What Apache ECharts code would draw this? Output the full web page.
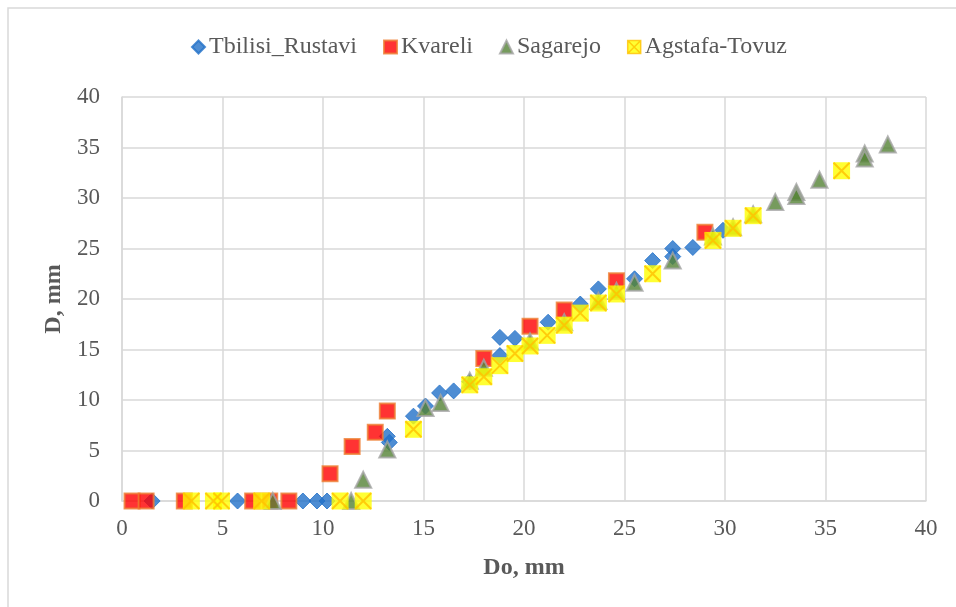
<!DOCTYPE html>
<html>
<head>
<meta charset="utf-8">
<title>D vs Do</title>
<script src="https://cdn.jsdelivr.net/npm/echarts@6.0.0/dist/echarts.min.js"></script>
<style>
  html, body { margin: 0; padding: 0; background: #fff; }
  #chart { width: 956px; height: 607px; }
</style>
</head>
<body>
<div id="chart"></div>
<script>
// Measured diameters (mm) per site: Do on the x axis, D on the y axis
var tbilisiX = [1.5, 5.75, 9.0, 9.7, 10.2, 13.2, 13.3, 14.5, 15.1, 15.8, 16.5, 17.3, 18.8, 18.8, 19.55, 21.2, 22.8, 23.7, 25.5, 26.4, 27.4, 27.4, 28.4, 29.9];
var tbilisiY = [0, 0, 0, 0, 0, 6.4, 5.8, 8.4, 9.4, 10.7, 10.9, 11.8, 14.4, 16.2, 16.1, 17.7, 19.5, 21.0, 22.0, 23.8, 25.0, 24.2, 25.1, 26.8];

var kvareliX = [0.5, 1.2, 3.1, 6.5, 7.35, 8.3, 10.35, 11.45, 12.6, 13.2, 18.0, 20.3, 22.0, 24.6, 29.0];
var kvareliY = [0, 0, 0, 0, 0, 0, 2.7, 5.4, 6.8, 8.9, 14.1, 17.3, 18.9, 21.8, 26.6];

var sagarejoX = [7.5, 11.4, 12.0, 13.2, 15.1, 15.85, 17.3, 18.0, 20.3, 22.0, 23.7, 24.6, 25.5, 27.4, 29.4, 30.4, 31.4, 32.5, 33.55, 33.55, 34.7, 36.95, 36.95, 38.1];
var sagarejoY = [0, 0, 2.1, 5.1, 9.2, 9.7, 11.9, 13.2, 15.8, 17.7, 19.8, 20.8, 21.6, 23.8, 26.2, 27.1, 28.4, 29.6, 30.6, 30.2, 31.8, 34.4, 33.9, 35.3];

var agstafaX = [3.45, 4.55, 4.95, 6.95, 10.85, 12.0, 14.5, 17.3, 18.0, 18.8, 19.55, 20.3, 21.15, 22.0, 22.8, 23.7, 24.6, 26.4, 29.4, 30.4, 31.4, 35.8];
var agstafaY = [0, 0, 0, 0, 0, 0, 7.1, 11.5, 12.3, 13.4, 14.6, 15.35, 16.4, 17.4, 18.6, 19.6, 20.5, 22.5, 25.8, 27.0, 28.25, 32.7];

var seriesNames = ['Tbilisi_Rustavi', 'Kvareli', 'Sagarejo', 'Agstafa-Tovuz'];
var axisTicks = [0, 5, 10, 15, 20, 25, 30, 35, 40];

function pairs(xs, ys) {
  return xs.map(function (x, i) { return [x, ys[i]]; });
}

var FONT = '"Liberation Serif", "Times New Roman", serif';
var TEXT = '#595959';
var GRID = '#D9D9D9';
var CROSS_PATH = 'path://M0,0L10,10M10,0L0,10';
var BOX_CROSS_PATH = 'path://M0,0L10,0L10,10L0,10ZM0,0L10,10M10,0L0,10';

var chart = echarts.init(document.getElementById('chart'), null, { renderer: 'canvas' });

chart.setOption({
  animation: false,
  backgroundColor: '#ffffff',
  textStyle: { fontFamily: FONT },
  graphic: [{
    type: 'rect',
    shape: { x: 8, y: 8, width: 960, height: 610 },
    style: { fill: 'none', stroke: GRID, lineWidth: 1.5 },
    silent: true,
    z: -1
  }],
  legend: {
    top: 30,
    left: 186,
    itemWidth: 13,
    itemHeight: 13,
    itemGap: 26,
    textStyle: { fontFamily: FONT, fontSize: 24, color: TEXT, padding: [0, 0, 0, -1] },
    data: [
      { name: seriesNames[0], icon: 'diamond' },
      { name: seriesNames[1], icon: 'rect' },
      { name: seriesNames[2], icon: 'triangle' },
      { name: seriesNames[3], icon: BOX_CROSS_PATH,
        itemStyle: { color: '#FFFF00', borderColor: '#FFC000', borderWidth: 1.5 } }
    ]
  },
  grid: { left: 122, right: 30, top: 97, bottom: 106, containLabel: false },
  xAxis: {
    type: 'value',
    min: axisTicks[0],
    max: axisTicks[axisTicks.length - 1],
    interval: 5,
    name: 'Do, mm',
    nameLocation: 'middle',
    nameGap: 55,
    nameTextStyle: { fontFamily: FONT, fontSize: 24, fontWeight: 'bold', color: TEXT },
    axisLine: { show: true, lineStyle: { color: GRID, width: 1.5 } },
    axisTick: { show: false },
    axisLabel: { fontFamily: FONT, fontSize: 23, color: TEXT, margin: 16 },
    splitLine: { show: true, lineStyle: { color: GRID, width: 1.5 } }
  },
  yAxis: {
    type: 'value',
    min: axisTicks[0],
    max: axisTicks[axisTicks.length - 1],
    interval: 5,
    name: 'D, mm',
    nameLocation: 'middle',
    nameGap: 49,
    nameTextStyle: { fontFamily: FONT, fontSize: 24, fontWeight: 'bold', color: TEXT },
    axisLine: { show: true, lineStyle: { color: GRID, width: 1.5 } },
    axisTick: { show: false },
    axisLabel: { fontFamily: FONT, fontSize: 23, color: TEXT, margin: 22 },
    splitLine: { show: true, lineStyle: { color: GRID, width: 1.5 } }
  },
  series: [
    {
      name: seriesNames[0],
      type: 'scatter',
      symbol: 'diamond',
      symbolSize: 16,
      itemStyle: { color: '#2270C8', borderColor: '#2270C8', borderWidth: 1 },
      data: pairs(tbilisiX, tbilisiY),
      z: 2
    },
    {
      name: seriesNames[1],
      type: 'scatter',
      symbol: 'rect',
      symbolSize: 15,
      itemStyle: { color: '#FF0000', borderColor: '#ED7D31', borderWidth: 2 },
      data: pairs(kvareliX, kvareliY),
      z: 3
    },
    {
      name: seriesNames[2],
      type: 'scatter',
      symbol: 'triangle',
      symbolSize: 16,
      itemStyle: { color: '#548235', borderColor: '#A5A5A5', borderWidth: 2 },
      data: pairs(sagarejoX, sagarejoY),
      z: 4
    },
    {
      name: seriesNames[3],
      type: 'scatter',
      symbol: 'rect',
      symbolSize: 17,
      itemStyle: { color: '#FFFF00', borderWidth: 0 },
      data: pairs(agstafaX, agstafaY),
      z: 5
    },
    {
      name: seriesNames[3],
      type: 'scatter',
      symbol: CROSS_PATH,
      symbolSize: 16,
      itemStyle: { color: 'none', borderColor: '#FFC000', borderWidth: 2 },
      data: pairs(agstafaX, agstafaY),
      z: 6
    }
  ]
});
</script>
</body>
</html>
